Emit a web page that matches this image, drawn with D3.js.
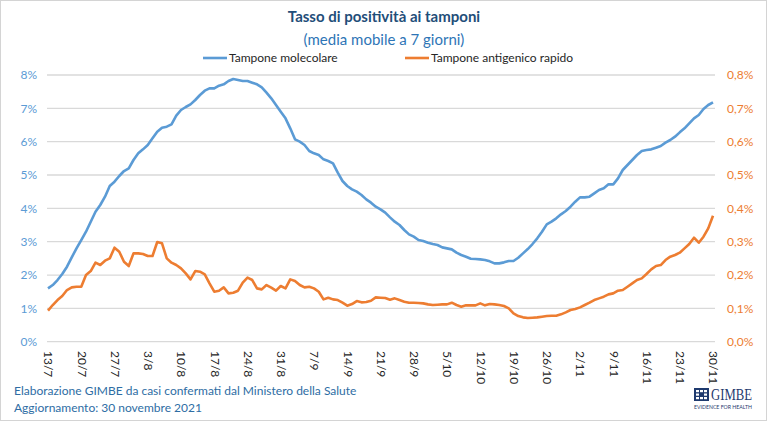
<!DOCTYPE html>
<html>
<head>
<meta charset="utf-8">
<script src="https://cdn.jsdelivr.net/npm/d3@7"></script>
<style>
  body { margin: 0; background: #fff; }
  text { font-family: Lato, "Open Sans", sans-serif; }
</style>
</head>
<body>
<div id="canvas"></div>
<script>
"use strict"

/* Data: daily 7-day moving average, 13/7/2021 to 30/11/2021 */
let firstDay = new Date(2021, 6, 13);

// Tampone molecolare (left axis, %)
let molecolare = [
    1.60, 1.70, 1.85, 2.03, 2.25, 2.53, 2.80, 3.05, 3.30, 3.60,
    3.90, 4.10, 4.35, 4.67, 4.80, 4.97, 5.12, 5.20, 5.45, 5.65,
    5.77, 5.90, 6.10, 6.30, 6.42, 6.45, 6.52, 6.78, 6.95, 7.04,
    7.12, 7.25, 7.40, 7.53, 7.60, 7.60, 7.68, 7.72, 7.82, 7.88,
    7.85, 7.82, 7.82, 7.77, 7.72, 7.63, 7.47, 7.30, 7.10, 6.90,
    6.70, 6.40, 6.07, 6.00, 5.90, 5.72, 5.65, 5.60, 5.47, 5.42,
    5.35, 5.07, 4.82, 4.67, 4.57, 4.50, 4.40, 4.27, 4.17, 4.05,
    3.97, 3.87, 3.73, 3.60, 3.50, 3.35, 3.22, 3.15, 3.05, 3.02,
    2.97, 2.93, 2.90, 2.83, 2.80, 2.77, 2.67, 2.60, 2.55, 2.49,
    2.48, 2.47, 2.45, 2.41, 2.35, 2.35, 2.38, 2.42, 2.42, 2.52,
    2.65, 2.78, 2.93, 3.10, 3.30, 3.52, 3.60, 3.70, 3.82, 3.92,
    4.05, 4.20, 4.33, 4.33, 4.35, 4.45, 4.55, 4.60, 4.72, 4.72,
    4.90, 5.15, 5.30, 5.45, 5.60, 5.72, 5.75, 5.77, 5.82, 5.87,
    5.97, 6.05, 6.15, 6.28, 6.40, 6.55, 6.70, 6.80, 6.98, 7.10,
    7.18
];

// Tampone antigenico rapido (right axis, %)
let antigenico = [
    0.093, 0.110, 0.125, 0.137, 0.155, 0.163, 0.165, 0.165, 0.200, 0.212,
    0.237, 0.230, 0.243, 0.250, 0.282, 0.270, 0.240, 0.227, 0.265, 0.265,
    0.263, 0.257, 0.257, 0.299, 0.295, 0.250, 0.237, 0.230, 0.220, 0.205,
    0.187, 0.212, 0.210, 0.202, 0.175, 0.150, 0.153, 0.163, 0.145, 0.147,
    0.153, 0.177, 0.192, 0.185, 0.160, 0.157, 0.170, 0.162, 0.153, 0.167,
    0.160, 0.187, 0.182, 0.170, 0.163, 0.165, 0.160, 0.150, 0.127, 0.132,
    0.127, 0.125, 0.117, 0.108, 0.113, 0.122, 0.118, 0.119, 0.123, 0.133,
    0.132, 0.131, 0.126, 0.130, 0.125, 0.120, 0.117, 0.117, 0.116, 0.115,
    0.112, 0.110, 0.111, 0.112, 0.112, 0.117, 0.110, 0.105, 0.109, 0.109,
    0.109, 0.115, 0.109, 0.113, 0.112, 0.110, 0.107, 0.100, 0.085, 0.077,
    0.073, 0.071, 0.072, 0.073, 0.075, 0.077, 0.078, 0.078, 0.082, 0.088,
    0.095, 0.098, 0.103, 0.110, 0.117, 0.125, 0.130, 0.135, 0.142, 0.145,
    0.153, 0.155, 0.165, 0.175, 0.185, 0.190, 0.203, 0.217, 0.227, 0.230,
    0.245, 0.255, 0.260, 0.267, 0.280, 0.293, 0.312, 0.297, 0.315, 0.340,
    0.378
];

let leftTicks = [0, 1, 2, 3, 4, 5, 6, 7, 8];
let rightTicks = [0, 0.1, 0.2, 0.3, 0.4, 0.5, 0.6, 0.7, 0.8];
let seriesNames = ["Tampone molecolare", "Tampone antigenico rapido"];

let days = molecolare.map((v, i) => d3.timeDay.offset(firstDay, i));
let weekTicks = days.filter((d, i) => i % 7 === 0);

/* Canvas */
let W = 767, H = 421;
let drawing = d3.select("#canvas")
    .append("svg")
    .attr("width", W)
    .attr("height", H);

let blue = "#5b9bd5";
let orange = "#ed7d31";

let border = drawing.append("rect")
    .attr("x", 0.5).attr("y", 0.5)
    .attr("width", W - 1).attr("height", H - 1)
    .attr("fill", "#fff")
    .attr("stroke", "#d4d4d4");

/* Scales */
let x = d3.scaleTime()
    .domain([days[0], days[days.length - 1]])
    .range([48, 713]);

let yLeft = d3.scaleLinear().domain([0, 8]).range([341.7, 75]);
let yRight = d3.scaleLinear().domain([0, 0.8]).range([341.7, 75]);

/* Gridlines */
drawing.append("g")
    .selectAll("line")
    .data(leftTicks)
    .join("line")
    .attr("x1", 47).attr("x2", 715)
    .attr("y1", d => yLeft(d)).attr("y2", d => yLeft(d))
    .attr("stroke", "#d9d9d9")
    .attr("stroke-width", 1.3);

/* Left axis */
let leftAxis = drawing.append("g")
    .attr("transform", "translate(37,0)")
    .call(d3.axisLeft(yLeft).tickValues(leftTicks).tickSize(0).tickPadding(0)
        .tickFormat(d => d + "%"));
leftAxis.select(".domain").remove();
leftAxis.selectAll("text")
    .attr("fill", blue)
    .style("font-size", "12px");

/* Right axis */
let commaFmt = d3.format(".1f");
let rightAxis = drawing.append("g")
    .attr("transform", "translate(727,0)")
    .call(d3.axisRight(yRight).tickValues(rightTicks).tickSize(0).tickPadding(0)
        .tickFormat(d => commaFmt(d).replace(".", ",") + "%"));
rightAxis.select(".domain").remove();
rightAxis.selectAll("text")
    .attr("fill", orange)
    .style("font-size", "12px");

/* Bottom axis, vertical date labels */
let bottomAxis = drawing.append("g")
    .attr("transform", "translate(0,342)")
    .call(d3.axisBottom(x).tickValues(weekTicks).tickSize(0)
        .tickFormat(d3.timeFormat("%-d/%-m")));
bottomAxis.select(".domain").remove();
bottomAxis.selectAll("text")
    .attr("fill", "#262626")
    .style("font-size", "12px")
    .attr("text-anchor", "start")
    .attr("dy", "0.35em")
    .attr("y", 0)
    .attr("transform", "translate(0,9) rotate(90)");

/* Lines */
let lineLeft = d3.line()
    .x((d, i) => x(days[i]))
    .y(d => yLeft(d));
let lineRight = d3.line()
    .x((d, i) => x(days[i]))
    .y(d => yRight(d));

drawing.append("path")
    .datum(antigenico)
    .attr("d", lineRight)
    .attr("fill", "none")
    .attr("stroke", orange)
    .attr("stroke-width", 2.6)
    .attr("stroke-linejoin", "round");

drawing.append("path")
    .datum(molecolare)
    .attr("d", lineLeft)
    .attr("fill", "none")
    .attr("stroke", blue)
    .attr("stroke-width", 2.6)
    .attr("stroke-linejoin", "round");

/* Title */
drawing.append("text")
    .attr("x", 384).attr("y", 22)
    .attr("text-anchor", "middle")
    .attr("fill", "#1f4e79")
    .style("font-size", "15px")
    .style("font-weight", "bold")
    .text("Tasso di positività ai tamponi");

drawing.append("text")
    .attr("x", 384).attr("y", 45)
    .attr("text-anchor", "middle")
    .attr("fill", "#2e75b6")
    .style("font-size", "15px")
    .text("(media mobile a 7 giorni)");

/* Legend */
let legendX = [203, 405];
let legendColors = [blue, orange];
seriesNames.forEach((name, i) => {
    drawing.append("line")
        .attr("x1", legendX[i]).attr("x2", legendX[i] + 24)
        .attr("y1", 58).attr("y2", 58)
        .attr("stroke", legendColors[i])
        .attr("stroke-width", 2.6);
    drawing.append("text")
        .attr("x", legendX[i] + 26).attr("y", 62)
        .attr("fill", "#262626")
        .style("font-size", "12px")
        .text(name);
});

/* Footer */
drawing.append("text")
    .attr("x", 14).attr("y", 395)
    .attr("fill", "#2e6da4")
    .style("font-size", "12px")
    .text("Elaborazione GIMBE da casi confermati dal Ministero della Salute");

drawing.append("text")
    .attr("x", 14).attr("y", 412)
    .attr("fill", "#2e6da4")
    .style("font-size", "12px")
    .text("Aggiornamento: 30 novembre 2021");

/* GIMBE logo */
let logoColor = "#1f3a6e";
let logoIcon = drawing.append("g").attr("transform", "translate(694,388)");
logoIcon.append("rect")
    .attr("width", 15).attr("height", 13)
    .attr("fill", logoColor);
[[2, 2], [6, 2], [10, 2], [2, 5.5], [10, 5.5], [2, 9], [6, 9], [10, 9]].forEach(p => {
    logoIcon.append("rect")
        .attr("x", p[0]).attr("y", p[1])
        .attr("width", 3).attr("height", 2.2)
        .attr("fill", "#fff");
});

drawing.append("text")
    .attr("x", 711).attr("y", 400)
    .attr("fill", logoColor)
    .style("font-family", "'Liberation Serif', serif")
    .style("font-size", "17px")
    .attr("textLength", 41)
    .attr("lengthAdjust", "spacingAndGlyphs")
    .text("GIMBE");

drawing.append("text")
    .attr("x", 694).attr("y", 409)
    .attr("fill", logoColor)
    .style("font-size", "5px")
    .attr("textLength", 58)
    .attr("lengthAdjust", "spacingAndGlyphs")
    .text("EVIDENCE FOR HEALTH");
</script>
</body>
</html>
